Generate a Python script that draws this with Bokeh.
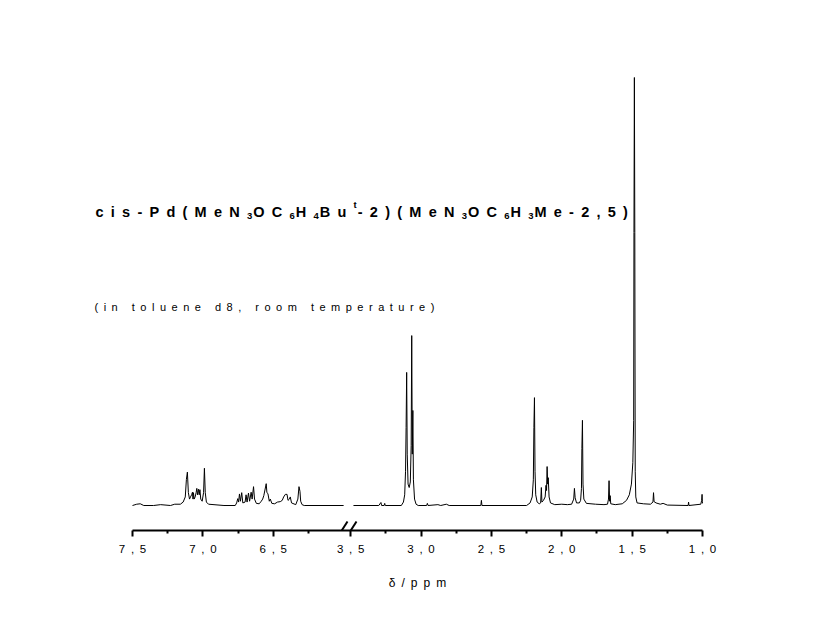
from bokeh.plotting import figure
from bokeh.models import Range1d, FixedTicker, Label, Arrow
from bokeh.embed import file_html
from bokeh.resources import INLINE

# ---------------- data ----------------
# aromatic region 7.5 - 6.0 ppm (left segment of the broken axis)
left_ppm = [7.500, 7.470, 7.445, 7.420, 7.350, 7.300, 7.230, 7.200, 7.160, 7.140,
            7.125, 7.117, 7.110, 7.103, 7.095, 7.088, 7.080, 7.074, 7.070, 7.067,
            7.062, 7.055, 7.048, 7.043, 7.038, 7.031, 7.026, 7.021, 7.015, 7.005,
            6.995, 6.989, 6.983, 6.975, 6.960, 6.850, 6.770, 6.760, 6.752, 6.746,
            6.740, 6.733, 6.724, 6.716, 6.700, 6.693, 6.686, 6.676, 6.668, 6.657,
            6.650, 6.640, 6.633, 6.620, 6.600, 6.585, 6.575, 6.567, 6.550, 6.545,
            6.538, 6.528, 6.521, 6.510, 6.490, 6.470, 6.450, 6.436, 6.426, 6.414,
            6.402, 6.395, 6.385, 6.379, 6.370, 6.340, 6.325, 6.317, 6.310, 6.305,
            6.295, 6.280, 6.000]
left_int = [0.0, 0.3, 0.4, 0.0, 0.0, 0.2, 0.0, 0.3, 0.3, 0.8,
            2.0, 6.1, 7.8, 3.0, 1.5, 2.0, 2.5, 3.1, 1.5, 3.0,
            1.5, 2.0, 3.0, 4.0, 2.5, 3.8, 2.5, 3.7, 1.5, 1.0,
            3.0, 8.7, 3.0, 0.8, 0.3, 0.0, 0.0, 0.6, 1.6, 0.8,
            2.7, 1.0, 3.0, 0.6, 0.8, 2.5, 0.8, 2.9, 1.0, 3.1,
            1.5, 4.4, 1.5, 0.5, 0.4, 1.0, 1.5, 2.3, 5.1, 3.0,
            2.8, 1.0, 1.5, 0.5, 0.4, 0.8, 0.9, 1.2, 2.0, 2.6,
            2.6, 1.2, 1.5, 2.0, 0.6, 0.2, 1.5, 4.4, 3.3, 1.0,
            0.2, 0.0, 0.0]

# aliphatic region 3.5 - 1.0 ppm (right segment)
right_ppm = [3.480, 3.300, 3.285, 3.280, 3.262, 3.258, 3.254, 3.140, 3.125, 3.116,
             3.110, 3.106, 3.102, 3.098, 3.092, 3.084, 3.076, 3.070, 3.066, 3.062,
             3.058, 3.054, 3.046, 3.035, 3.020, 2.960, 2.955, 2.950, 2.880, 2.860,
             2.820, 2.800, 2.575, 2.571, 2.567, 2.250, 2.225, 2.210, 2.202, 2.198,
             2.194, 2.190, 2.185, 2.175, 2.160, 2.150, 2.145, 2.141, 2.130, 2.118,
             2.112, 2.108, 2.104, 2.100, 2.096, 2.090, 2.080, 2.050, 2.000, 1.960,
             1.930, 1.915, 1.910, 1.905, 1.895, 1.875, 1.866, 1.860, 1.857, 1.853,
             1.849, 1.843, 1.825, 1.760, 1.700, 1.675, 1.668, 1.664, 1.660, 1.656,
             1.652, 1.620, 1.570, 1.540, 1.520, 1.505, 1.495, 1.489, 1.487, 1.484,
             1.481, 1.478, 1.474, 1.465, 1.420, 1.370, 1.352, 1.348, 1.344, 1.330,
             1.300, 1.280, 1.250, 1.102, 1.099, 1.096, 1.012, 1.006, 1.003, 1.001,
             1.000]
right_int = [0.0, 0.0, 0.7, 0.0, 0.0, 0.5, 0.0, 0.0, 0.8, 2.5,
             8.0, 18.2, 31.1, 12.0, 5.0, 4.2, 5.5, 14.0, 39.7, 12.0,
             22.2, 6.0, 1.5, 0.3, 0.0, 0.0, 0.5, 0.0, 0.2, 0.0,
             0.3, 0.0, 0.0, 1.2, 0.0, 0.0, 0.6, 2.0, 6.0, 18.2,
             25.2, 8.0, 2.5, 0.8, 0.4, 0.6, 4.2, 0.8, 1.2, 2.0,
             4.7, 3.5, 9.1, 5.0, 6.5, 2.0, 0.6, 0.2, 0.3, 0.2,
             0.3, 1.5, 4.0, 1.8, 0.6, 0.6, 1.2, 4.0, 13.3, 19.9,
             5.0, 1.5, 0.5, 0.3, 0.2, 0.3, 1.5, 5.8, 1.0, 2.3,
             0.4, 0.2, 0.4, 1.2, 2.5, 5.0, 10.0, 19.9, 63.8, 100.0,
             63.8, 8.0, 2.0, 0.6, 0.4, 0.3, 0.8, 3.0, 0.9, 0.6,
             0.3, 0.5, 0.1, 0.0, 0.8, 0.0, 0.3, 1.2, 2.6, 1.0,
             0.5]

tick_ppm = [7.5, 7.0, 6.5, 3.5, 3.0, 2.5, 2.0, 1.5, 1.0]
tick_labels = ["7,5", "7,0", "6,5", "3,5", "3,0", "2,5", "2,0", "1,5", "1,0"]
minor_ppm = [7.25, 6.75, 6.25, 3.25, 2.75, 2.25, 1.75, 1.25]

title_parts = [("cis-Pd(MeN", "main"), ("3", "sub"), ("OC", "main"), ("6", "sub"),
               ("H", "main"), ("4", "sub"), ("Bu", "main"), ("t", "sup"),
               ("-2)(MeN", "main"), ("3", "sub"), ("OC", "main"), ("6", "sub"),
               ("H", "main"), ("3", "sub"), ("Me-2,5)", "main")]
subtitle = "(in toluene d8, room temperature)"
x_label = "δ/ppm"

# ---------------- broken-axis mapping ----------------
SHIFT = 2.45            # left segment (7.5-6.0 ppm) is drawn shifted next to 3.5 ppm
def ax_left(p):
    return round(p - SHIFT, 6)

def ax(p):
    return ax_left(p) if p > 4 else p

EN = "\u2002"
FONT = "Liberation Sans"

# layout (canvas px)
W, H = 817, 630
AX_L, AX_R = 132, 702          # where 7.5 and 1.0 sit
FR_L, FR_R = 88, 746           # frame edges (wider than the axis so texts are inside; centred on axis)
FR_T, FR_B = 60, 530
BL, BR, BT, BB = FR_L, W - FR_R, FR_T, H - FR_B
FW, FH = FR_R - FR_L, FR_B - FR_T
XA, XB = ax_left(7.5), 1.0
SC = (AX_R - AX_L) / (XA - XB)              # px per ppm
X0 = XA + (AX_L - FR_L) / SC
X1 = XB - (FR_R - AX_R) / SC
BASE_PX = 505
PXU = 4.28                                   # px per intensity unit
Y0 = -(FR_B - BASE_PX) / PXU
Y1 = (BASE_PX - FR_T) / PXU

def px_x(px):
    return X0 + (px - FR_L) * (X1 - X0) / FW

def px_y(py):
    return Y1 - (py - FR_T) * (Y1 - Y0) / FH

p = figure(width=W, height=H, output_backend="svg", toolbar_location=None,
           x_range=Range1d(X0, X1), y_range=Range1d(Y0, Y1),
           y_axis_location=None, min_border_left=BL, min_border_right=BR,
           min_border_top=BT, min_border_bottom=BB)
p.grid.visible = False
p.outline_line_color = None
p.background_fill_color = "white"
p.border_fill_color = "white"

p.line([ax_left(v) for v in left_ppm], left_int, line_color="black", line_width=1)
p.line(right_ppm, right_int, line_color="black", line_width=1)

xa = p.xaxis[0]
xa.bounds = (XB, XA)
xa.ticker = FixedTicker(ticks=[ax(v) for v in tick_ppm], minor_ticks=[ax(v) for v in minor_ppm])
xa.major_label_overrides = {ax(v): EN.join(lbl) for v, lbl in zip(tick_ppm, tick_labels)}
xa.axis_line_width = 2
xa.axis_line_color = "black"
xa.major_tick_line_width = 2
xa.minor_tick_line_width = 2
xa.major_tick_in = 0
xa.major_tick_out = 6
xa.minor_tick_in = 0
xa.minor_tick_out = 3
xa.major_label_standoff = 6
xa.major_label_text_font = FONT
xa.major_label_text_font_size = "11.5px"
xa.major_label_text_color = "black"
xa.axis_label = EN.join(x_label)
xa.axis_label_text_font = FONT
xa.axis_label_text_font_size = "12px"
xa.axis_label_text_font_style = "normal"
xa.axis_label_text_color = "black"
xa.axis_label_standoff = 18

# break marks "//" on the axis
for a, b in [(338, 347), (347, 356)]:
    p.add_layout(Arrow(end=None, x_start=px_x(a), y_start=px_y(535), x_end=px_x(b), y_end=px_y(521),
                       line_width=2, line_color="black"))

# title (letter-spaced, with sub/superscripts)
BOLD = {'c': 556, 'i': 278, 's': 556, '-': 333, 'P': 667, 'd': 611, '(': 333, ')': 333,
        'M': 833, 'e': 556, 'N': 722, 'O': 778, 'C': 722, 'H': 722, 'B': 722, 'u': 611,
        't': 333, '2': 556, '3': 556, '4': 556, '5': 556, '6': 556, ',': 278, EN: 500}

def width(s, fs, m):
    return sum(m.get(ch, 556) for ch in s) * fs / 1000

FS, SFS = 14.5, 9.5
cur = 95
base = 211
for txt, kind in title_parts:
    if kind == "main":
        s = EN.join(txt)
        p.add_layout(Label(x=px_x(cur), y=px_y(base), text=s, text_font=FONT,
                           text_font_size=f"{FS}px", text_font_style="bold",
                           text_color="black", text_baseline="alphabetic", text_align="left"))
        cur += width(s, FS, BOLD) + 0.5 * FS
    else:
        yb = base + 4 if kind == "sub" else base - 7
        p.add_layout(Label(x=px_x(cur), y=px_y(yb), text=txt, text_font=FONT,
                           text_font_size=f"{SFS}px", text_font_style="bold",
                           text_color="black", text_baseline="alphabetic", text_align="left"))
        cur += width(txt, SFS, BOLD) + 1

sub_s = (EN + " " + EN).join(EN.join(w) for w in subtitle.split(" "))
p.add_layout(Label(x=px_x(94), y=px_y(306), text=sub_s, text_font=FONT,
                   text_font_size="11px", text_font_style="normal",
                   text_color="black", text_baseline="alphabetic", text_align="left"))

open("out.html", "w").write(file_html(p, INLINE))
